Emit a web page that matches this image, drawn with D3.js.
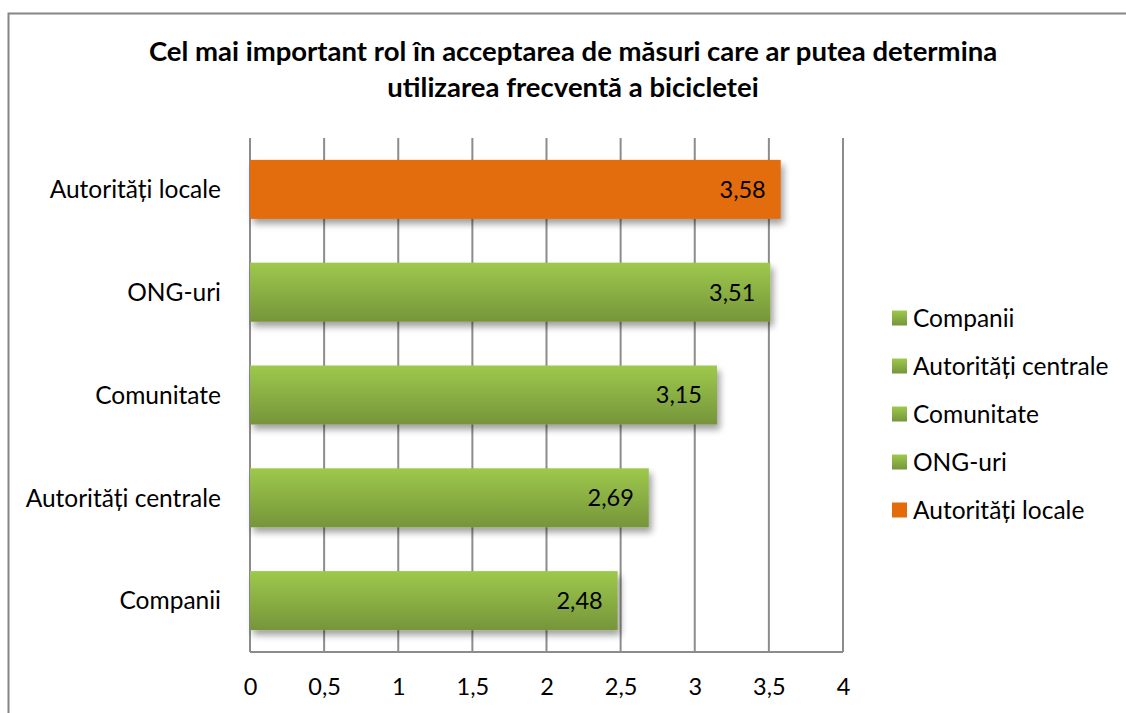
<!DOCTYPE html>
<html><head><meta charset="utf-8">
<script src="https://cdn.jsdelivr.net/npm/d3@7"></script>
<style>body{margin:0;background:#fff}svg{display:block}text{font-family:Lato,"Open Sans",sans-serif}</style>
</head><body><svg id="c" width="1126" height="713"></svg>
<script>
const categories = ["Autorități locale","ONG-uri","Comunitate","Autorități centrale","Companii"];
const values = [3.58,3.51,3.15,2.69,2.48];
const highlight = ["Autorități locale"];
const legendItems = ["Companii","Autorități centrale","Comunitate","ONG-uri","Autorități locale"];
const xTicks = [0,0.5,1,1.5,2,2.5,3,3.5,4];
const titleLines = ["Cel mai important rol în acceptarea de măsuri care ar putea determina","utilizarea frecventă a bicicletei"];

const svg = d3.select("#c");
const m={left:250,right:843,top:138,bottom:652};
const fmt = v => String(v).replace(".",",");
const orange="#e36c0a";
const FS=24.5, FSN=23.5;

const defs=svg.append("defs");
const g=defs.append("linearGradient").attr("id","gg").attr("x1",0).attr("y1",0).attr("x2",0).attr("y2",1);
g.append("stop").attr("offset","0%").attr("stop-color","#9dc94c");
g.append("stop").attr("offset","100%").attr("stop-color","#76953a");
const f=defs.append("filter").attr("id","sh").attr("x","-5%").attr("y","-20%").attr("width","115%").attr("height","160%");
f.append("feGaussianBlur").attr("in","SourceAlpha").attr("stdDeviation",3.5);
f.append("feOffset").attr("dx",3).attr("dy",5).attr("result","b");
f.append("feComponentTransfer").append("feFuncA").attr("type","linear").attr("slope",0.38);
const mg=f.append("feMerge");mg.append("feMergeNode");mg.append("feMergeNode").attr("in","SourceGraphic");

svg.append("rect").attr("x",8.5).attr("y",13.5).attr("width",1200).attr("height",800)
  .attr("fill","none").attr("stroke","#868686").attr("stroke-width",2);

const x=d3.scaleLinear().domain([0,4]).range([m.left,m.right]);
const y=d3.scaleBand().domain(categories).range([m.top,m.bottom]).paddingInner(0.426).paddingOuter(0.213);

svg.append("g").selectAll("line").data(xTicks).join("line")
  .attr("x1",d=>x(d)).attr("x2",d=>x(d)).attr("y1",m.top).attr("y2",m.bottom)
  .attr("stroke","#8c8c8c").attr("stroke-width",2);
svg.append("line").attr("x1",m.left).attr("x2",m.right).attr("y1",m.bottom).attr("y2",m.bottom)
  .attr("stroke","#8c8c8c").attr("stroke-width",2);

svg.append("g").selectAll("rect").data(categories).join("rect")
  .attr("x",x(0)).attr("y",d=>y(d)).attr("height",y.bandwidth())
  .attr("width",(d,i)=>x(values[i])-x(0))
  .attr("fill",d=>highlight.includes(d)?orange:"url(#gg)")
  .attr("filter","url(#sh)");

svg.append("g").selectAll("text").data(categories).join("text")
  .attr("x",(d,i)=>x(values[i])-15).attr("y",d=>y(d)+y.bandwidth()/2)
  .attr("dy","0.36em").attr("text-anchor","end").attr("font-size",FSN).attr("fill","#000")
  .text((d,i)=>fmt(values[i]));

svg.append("g").selectAll("text").data(categories).join("text")
  .attr("x",221).attr("y",d=>y(d)+y.bandwidth()/2).attr("dy","0.36em")
  .attr("text-anchor","end").attr("font-size",FS).attr("fill","#000").text(d=>d);

const xa=svg.append("g").attr("transform",`translate(0,${m.bottom})`)
  .call(d3.axisBottom(x).tickValues(xTicks).tickSize(0).tickPadding(26).tickFormat(fmt));
xa.select(".domain").remove();
xa.selectAll("text").attr("font-size",FSN).attr("fill","#000").attr("font-family",'Lato,"Open Sans",sans-serif');

svg.append("g").selectAll("text").data(titleLines).join("text")
  .attr("x",573).attr("y",(d,i)=>61+i*36).attr("text-anchor","middle")
  .attr("font-size",27.5).attr("font-weight","bold").attr("fill","#000").text(d=>d);

const lg=svg.append("g").selectAll("g").data(legendItems).join("g")
  .attr("transform",(d,i)=>`translate(892,${318+i*48})`);
lg.append("rect").attr("x",0).attr("y",-7.5).attr("width",15).attr("height",15)
  .attr("fill",d=>highlight.includes(d)?orange:"url(#gg)");
lg.append("text").attr("x",21).attr("y",0).attr("dy","0.36em").attr("font-size",FS).attr("fill","#000").text(d=>d);
</script></body></html>
